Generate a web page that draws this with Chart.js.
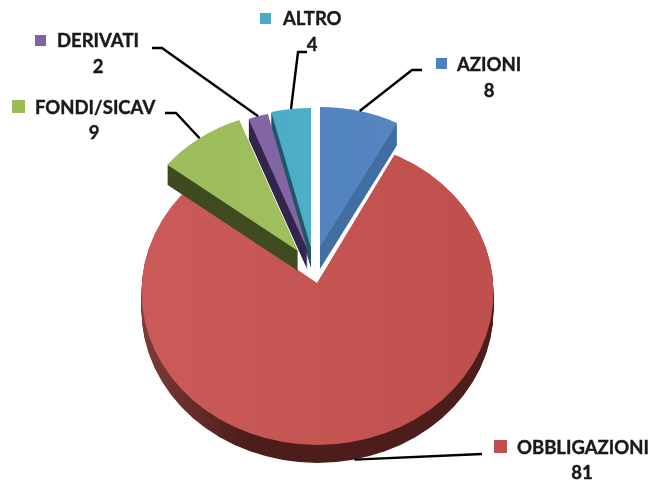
<!DOCTYPE html>
<html>
<head>
<meta charset="utf-8">
<style>html,body{margin:0;padding:0;background:#fff}canvas{display:block}</style>
<script src="https://cdn.jsdelivr.net/npm/chart.js@4"></script>
</head>
<body>
<canvas id="c" width="654" height="481"></canvas>
<script>
const categories = ['AZIONI', 'OBBLIGAZIONI', 'FONDI/SICAV', 'DERIVATI', 'ALTRO'];
const values = [8, 81, 9, 2, 4];

const faceLeft = ['#4F81BD', '#CA5A57', '#9DBD5C', '#8064A2', '#4BACC6'];
const faceRight = ['#5586C2', '#BF504D', '#A3C162', '#8767AB', '#50AEC8'];
const sideLeft = ['#4674A9', '#7E3A38', '#3F4A1E', '#30244A', '#1F5766'];
const sideRight = ['#3F6C9F', '#4C1D1B', '#414C20', '#352850', '#1F5766'];
const keyColors = ['#4F81BD', '#C0504D', '#9BBB59', '#8064A2', '#4BACC6'];
const sideStopA = [0.1, 0.065, 0.1, 0.1, 0.1];
const sideStopB = [0.9, 0.33, 0.9, 0.9, 0.9];

/* per-slice projection: rim ellipse, wedge tip, extrusion */
const centerX = [320, 317.5, 298, 307.5, 311];
const centerY = [247, 292, 251, 250, 248];
const radiusX = [166, 176, 166, 166, 166];
const radiusY = [140, 153, 140, 140, 140];
const tipX = [320, 317, 298, 307.5, 311];
const tipY = [247, 283, 251, 250, 248];
const overscan = [1, 1.15, 1, 1, 1];
const depth = [22, 18, 20, 20, 20];
const paintOrder = [1, 0, 4, 3, 2];

/* label layout */
const keyX = [436, 494, 12, 35, 260];
const keyY = [58, 440, 100, 35, 13];
const keySize = [11, 13, 13, 11, 11];
const nameX = [457, 517, 35, 57, 283];
const nameY = [65, 448, 108, 41, 19];
const valueX = [489, 582, 94, 98, 312];
const valueY = [91, 473, 133, 67, 45];
const elbowX = [412, null, 176, 162, 298];
const elbowY = [70, null, 113, 48, 52];
const tailX = [422, 482, 165, 152, 307];
const tailY = [70, 454, 113, 48, 52];

const draw3d = {
  id: 'draw3d',
  beforeDatasetsDraw(chart) {
    const ctx = chart.ctx;
    const arcs = chart.getDatasetMeta(0).data;
    const paintArc = (el, i, dy, colorA, colorB, stopA, stopB) => {
      const R = el.outerRadius;
      ctx.save();
      if (overscan[i] > 1) {
        ctx.beginPath();
        ctx.ellipse(centerX[i], centerY[i] + dy, radiusX[i], radiusY[i], 0, 0, Math.PI * 2);
        ctx.clip();
      }
      ctx.translate(tipX[i], tipY[i] + dy);
      ctx.scale(radiusX[i] * overscan[i] / R, radiusY[i] * overscan[i] / R);
      ctx.translate(-el.x, -el.y);
      const g = ctx.createLinearGradient(el.x - R, 0, el.x + R, 0);
      g.addColorStop(stopA, colorA);
      g.addColorStop(stopB, colorB);
      const ghost = Object.create(el);
      ghost.options = Object.assign({}, el.options, { backgroundColor: g, borderWidth: 0 });
      ghost.draw(ctx);
      ctx.restore();
    };
    for (const i of paintOrder) {
      const el = arcs[i];
      for (let d = depth[i]; d >= 1; d--) paintArc(el, i, d, sideLeft[i], sideRight[i], sideStopA[i], sideStopB[i]);
      paintArc(el, i, 0, faceLeft[i], faceRight[i], 0.15, 0.85);
    }
    /* leader lines end on each slice's outer rim at its mid angle */
    ctx.strokeStyle = '#000';
    ctx.lineWidth = 2.4;
    arcs.forEach((el, i) => {
      const mid = (el.startAngle + el.endAngle) / 2;
      const ax = centerX[i] + radiusX[i] * Math.cos(mid);
      const below = Math.sin(mid) > 0 ? depth[i] : 0;
      const ay = centerY[i] + radiusY[i] * Math.sin(mid) + below;
      ctx.beginPath();
      ctx.moveTo(tailX[i], tailY[i]);
      if (elbowX[i] !== null) ctx.lineTo(elbowX[i], elbowY[i]);
      ctx.lineTo(ax, ay);
      ctx.stroke();
    });
    /* labels */
    ctx.font = 'bold 18.5px Lato';
    ctx.textBaseline = 'middle';
    ctx.lineWidth = 0.4;
    ctx.strokeStyle = '#1A1A1A';
    categories.forEach((name, i) => {
      ctx.fillStyle = keyColors[i];
      ctx.fillRect(keyX[i], keyY[i], keySize[i], keySize[i]);
      ctx.fillStyle = '#1A1A1A';
      ctx.textAlign = 'left';
      ctx.fillText(name, nameX[i], nameY[i]);
      ctx.strokeText(name, nameX[i], nameY[i]);
      ctx.textAlign = 'center';
      ctx.fillText(String(values[i]), valueX[i], valueY[i]);
      ctx.strokeText(String(values[i]), valueX[i], valueY[i]);
    });
    return false;
  }
};

new Chart(document.getElementById('c'), {
  type: 'pie',
  data: {
    labels: categories,
    datasets: [{ data: values, backgroundColor: keyColors, borderWidth: 0 }]
  },
  options: {
    responsive: false,
    animation: false,
    layout: { padding: 0 },
    plugins: { legend: { display: false }, tooltip: { enabled: false } }
  },
  plugins: [draw3d]
});
</script>
</body>
</html>
